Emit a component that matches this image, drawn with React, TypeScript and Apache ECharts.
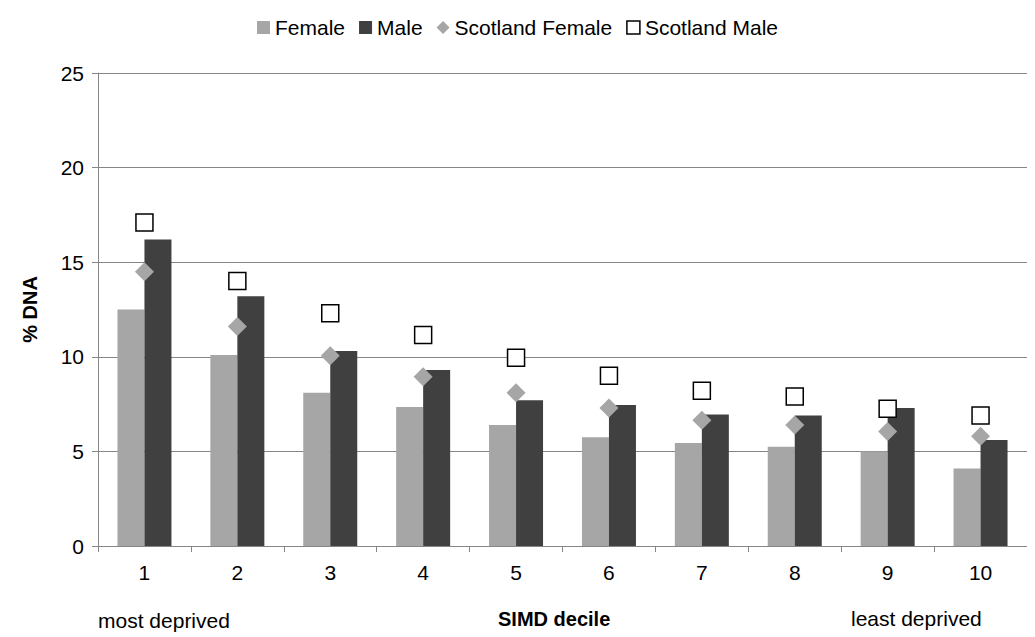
import React, { useEffect, useRef } from 'react';
import * as echarts from 'echarts';

const deciles = ['1', '2', '3', '4', '5', '6', '7', '8', '9', '10'];
const female = [12.5, 10.1, 8.1, 7.35, 6.4, 5.75, 5.45, 5.25, 5.0, 4.1];
const male = [16.2, 13.2, 10.3, 9.3, 7.7, 7.45, 6.95, 6.9, 7.3, 5.6];
const scotlandFemale = [14.5, 11.6, 10.05, 8.95, 8.1, 7.3, 6.65, 6.4, 6.05, 5.8];
const scotlandMale = [17.1, 14.0, 12.3, 11.15, 9.95, 9.0, 8.2, 7.9, 7.25, 6.9];

const font = 'Liberation Sans, Arial, sans-serif';

const App: React.FC = () => {
  const chartRef = useRef<HTMLDivElement>(null);

  useEffect(() => {
    if (!chartRef.current) return;
    const chart = echarts.init(chartRef.current, undefined, { renderer: 'svg' });
    chart.setOption({
      animation: false,
      textStyle: { fontFamily: font },
      legend: {
        top: 4,
        left: 'center',
        itemGap: 14,
        itemWidth: 13,
        itemHeight: 13,
        textStyle: { fontSize: 21, color: '#000', fontFamily: font },
        data: [
          { name: 'Female', icon: 'rect' },
          { name: 'Male', icon: 'rect' },
          { name: 'Scotland Female', icon: 'diamond' },
          { name: 'Scotland Male', icon: 'rect', itemStyle: { color: '#fff', borderColor: '#000', borderWidth: 1.5 } },
        ],
      },
      grid: { left: 90, right: 0, top: 65, bottom: 91 },
      xAxis: {
        type: 'category',
        data: deciles,
        axisLine: { lineStyle: { color: '#868686' } },
        axisTick: { show: true, alignWithLabel: false, length: 6, lineStyle: { color: '#868686' } },
        axisLabel: { fontSize: 21, color: '#000', margin: 16 },
      },
      yAxis: {
        type: 'value',
        min: 0,
        max: 25,
        interval: 5,
        name: '% DNA',
        nameLocation: 'middle',
        nameGap: 58,
        nameTextStyle: { fontSize: 20, fontWeight: 'bold', color: '#000' },
        axisLine: { show: true, lineStyle: { color: '#868686' } },
        axisTick: { show: true, length: 6, lineStyle: { color: '#868686' } },
        axisLabel: { fontSize: 21, color: '#000', margin: 14 },
        splitLine: { lineStyle: { color: '#868686' } },
      },
      series: [
        { name: 'Female', type: 'bar', data: female, barWidth: 27, barGap: '0%', itemStyle: { color: '#a6a6a6' } },
        { name: 'Male', type: 'bar', data: male, barWidth: 27, itemStyle: { color: '#404040' } },
        {
          name: 'Scotland Female', type: 'line', data: scotlandFemale, symbol: 'diamond', symbolSize: 19,
          lineStyle: { width: 0 }, itemStyle: { color: '#a6a6a6' }, z: 5,
        },
        {
          name: 'Scotland Male', type: 'line', data: scotlandMale, symbol: 'rect', symbolSize: 17,
          lineStyle: { width: 0 }, itemStyle: { color: '#fff', borderColor: '#000', borderWidth: 1.5 }, z: 5,
        },
      ],
      graphic: [
        { type: 'text', left: 90, top: 602, style: { text: 'most deprived', fontSize: 21, fill: '#000', fontFamily: font } },
        { type: 'text', left: 490, top: 601, style: { text: 'SIMD decile', fontSize: 20, fontWeight: 'bold', fill: '#000', fontFamily: font } },
        { type: 'text', left: 843, top: 600, style: { text: 'least deprived', fontSize: 21, fill: '#000', fontFamily: font } },
      ],
    });
    return () => chart.dispose();
  }, []);

  return <div ref={chartRef} style={{ width: 1019, height: 629 }} />;
};

export default App;
